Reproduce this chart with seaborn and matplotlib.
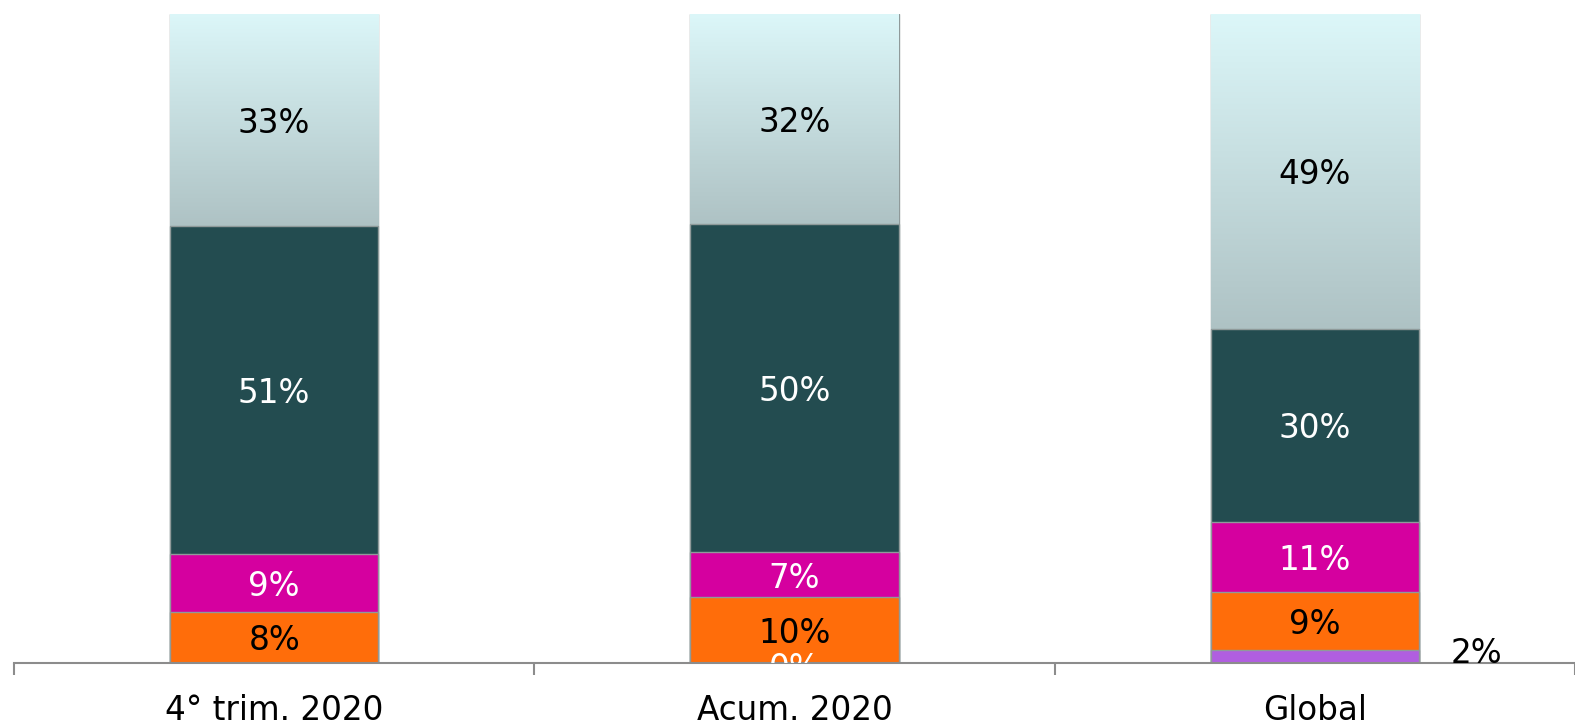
import numpy as np
import matplotlib
matplotlib.use("Agg")
import matplotlib.pyplot as plt
import seaborn as sns
from matplotlib.colors import LinearSegmentedColormap

# ---- data (percentages as labelled) ----
categories = ["4° trim. 2020", "Acum. 2020", "Global"]
purple = [0, 0, 2]
orange = [8, 10, 9]
magenta = [9, 7, 11]
teal = [51, 50, 30]
light = [33, 32, 49]
show_purple_label = [False, True, True]

sns.set_style("white")
plt.rcParams['font.family'] = ['DejaVu Sans']

layers = [purple, orange, magenta, teal, light]
colors = ["#b05ee0", "#ff6d0a", "#d5009f", "#234c50", "#c6dfe1"]
text_colors = ["white", "black", "white", "white", "black"]

vals = np.array(layers, dtype=float)
norm = vals / vals.sum(axis=0) * 100.0
cum = np.cumsum(norm, axis=0)

W, H = 1575, 724
fig = plt.figure(figsize=(W / 100, H / 100), dpi=100)
ax = fig.add_axes([14 / W, 1 - 663 / H, 1 - 14 / W, (663 - 14) / H])

bar_w = 0.4
FS = 23.5
top = len(layers) - 1
# draw from top layer down (overlay technique)
for i in reversed(range(len(layers))):
    sns.barplot(x=categories, y=cum[i], color=colors[i], saturation=1,
                width=bar_w, ax=ax, edgecolor="#8f9a9a", linewidth=1.0)
    if i == top:
        # gradient fill for the visible part of the top (light) segment
        cmap = LinearSegmentedColormap.from_list("lg", ["#dcf7f9", "#aec2c4"])
        grad = np.linspace(0, 1, 256).reshape(-1, 1)
        for j, p in enumerate(list(ax.patches)):
            x0 = p.get_x()
            w = p.get_width()
            ylo, yhi = cum[top - 1][j], cum[top][j]
            im = ax.imshow(grad, cmap=cmap, aspect="auto",
                           extent=[x0, x0 + w, ylo, yhi], origin="upper",
                           zorder=p.get_zorder())
            im.set_clip_path(p)

ax.set_xlim(-0.5, 2.5)
ax.set_ylim(0, 100)

# labels
for i in range(len(layers)):
    for j in range(len(categories)):
        v = layers[i][j]
        yc = cum[i][j] - norm[i][j] / 2
        if i == 0:
            if not show_purple_label[j]:
                continue
            if v >= 1:
                ax.text(j + 0.31, yc + 0.4, f"{v}%", ha="center", va="center",
                        fontsize=FS, color="black", clip_on=False)
            else:
                ax.text(j, yc - 0.8, f"{v}%", ha="center", va="center",
                        fontsize=FS, color="white", clip_on=True)
            continue
        ax.text(j, yc, f"{v}%", ha="center", va="center_baseline",
                fontsize=FS, color=text_colors[i])

# axes styling
for s in ["top", "right", "left"]:
    ax.spines[s].set_visible(False)
ax.spines["bottom"].set_color("#8c8c8c")
ax.spines["bottom"].set_linewidth(1.5)
ax.set_yticks([])
ax.set_ylabel("")
ax.set_xlabel("")
ax.set_xticks(range(len(categories)))
ax.set_xticklabels(categories)
ax.set_xticks([-0.5, 0.5, 1.5, 2.5], minor=True)
ax.tick_params(axis="x", which="major", bottom=True, length=0, pad=22,
               labelsize=FS, labelcolor="black")
ax.tick_params(axis="x", which="minor", bottom=True, length=8.6, width=1.5,
               color="#8c8c8c", direction="out")
ax.set_facecolor("white")

fig.savefig("out.png", dpi=100)
